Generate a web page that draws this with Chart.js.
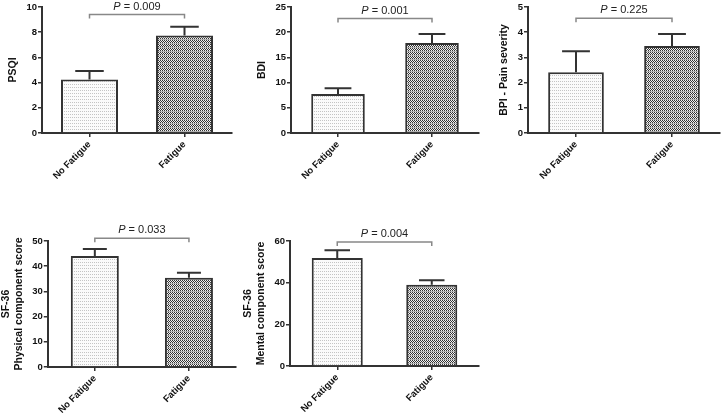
<!DOCTYPE html>
<html>
<head>
<meta charset="utf-8">
<script src="https://cdn.jsdelivr.net/npm/chart.js@4"></script>
<style>
  body { margin: 0; background: #fff; }
  #wrap { position: relative; width: 722px; height: 416px; overflow: hidden; }
  #wrap canvas { position: absolute; }
</style>
</head>
<body>
<div id="wrap"></div>
<script>
// Datos
const categories = ['No Fatigue', 'Fatigue'];

const psqiMean = [4.24, 7.73];
const psqiSem = [0.68, 0.71];
const bdiMean = [7.74, 17.86];
const bdiSem = [1.13, 1.78];
const bpiMean = [2.41, 3.45];
const bpiSem = [0.83, 0.48];
const pcsMean = [44.0, 35.4];
const pcsSem = [2.8, 2.0];
const mcsMean = [51.9, 39.0];
const mcsSem = [3.7, 2.2];

const pValues = ['0.009', '0.001', '0.225', '0.033', '0.004'];
const bracketLevels = [9.4, 22.7, 4.55, 51.1, 59.5];
const yMax = [10, 25, 5, 50, 60];
const yStep = [2, 5, 1, 10, 20];
const yTitles = ['PSQI', 'BDI', 'BPI - Pain severity', ['SF-36', 'Physical component score'], ['SF-36', 'Mental component score']];

// Posición de cada panel (canvas) y de su área de trazado
const panels = [
  { means: psqiMean, sems: psqiSem, box: { l: 0, t: 0, w: 240, h: 205 }, area: { l: 42, r: 232, t: 7, b: 133 }, bar: 0.6 },
  { means: bdiMean, sems: bdiSem, box: { l: 240, t: 0, w: 240, h: 205 }, area: { l: 291, r: 479, t: 7, b: 133 }, bar: 0.57 },
  { means: bpiMean, sems: bpiSem, box: { l: 480, t: 0, w: 242, h: 205 }, area: { l: 528, r: 720, t: 7, b: 133 }, bar: 0.58 },
  { means: pcsMean, sems: pcsSem, box: { l: 0, t: 220, w: 240, h: 196 }, area: { l: 41, r: 236, t: 241, b: 367 }, bar: 0.51 },
  { means: mcsMean, sems: mcsSem, box: { l: 240, t: 220, w: 240, h: 196 }, area: { l: 290, r: 479, t: 241, b: 366 }, bar: 0.54 }
];

const FONT = "'Liberation Sans', Arial, sans-serif";
const DARK = '#333';

// Patrones de relleno
function makePattern(draw, w, h) {
  const c = document.createElement('canvas');
  c.width = w; c.height = h;
  const g = c.getContext('2d');
  draw(g);
  return g.createPattern(c, 'repeat');
}

const lightDots = makePattern(g => {
  g.fillStyle = '#fbfbfb';
  g.fillRect(0, 0, 4, 3);
  g.fillStyle = '#c4c4c4';
  g.fillRect(0, 0, 1, 1);
  g.fillRect(2, 0, 1, 1);
}, 4, 3);

const darkChecker = makePattern(g => {
  g.fillStyle = '#f2f2f2';
  g.fillRect(0, 0, 2, 4);
  g.fillStyle = '#333';
  g.fillRect(0, 0, 1, 1);
  g.fillRect(1, 1, 1, 1);
  g.fillRect(0, 2, 1, 1);
  g.fillStyle = '#b0b0b0';
  g.fillRect(0, 3, 2, 1);
}, 2, 4);

// Plugin: barras de error y corchete con valor P
const annotations = {
  id: 'annotations',
  afterDatasetsDraw(chart, args, opts) {
    const ctx = chart.ctx;
    const y = chart.scales.y;
    const meta = chart.getDatasetMeta(0);
    ctx.save();
    ctx.strokeStyle = DARK;
    ctx.lineWidth = 2;
    meta.data.forEach((bar, i) => {
      const top = y.getPixelForValue(opts.means[i] + opts.sems[i]);
      const cap = bar.width * 0.25;
      ctx.beginPath();
      ctx.moveTo(bar.x, bar.y);
      ctx.lineTo(bar.x, top);
      ctx.moveTo(bar.x - cap, top);
      ctx.lineTo(bar.x + cap, top);
      ctx.stroke();
    });

    const x1 = meta.data[0].x;
    const x2 = meta.data[1].x;
    const by = y.getPixelForValue(opts.bracket);
    ctx.strokeStyle = '#888';
    ctx.lineWidth = 1.5;
    ctx.beginPath();
    ctx.moveTo(x1, by + 4);
    ctx.lineTo(x1, by);
    ctx.lineTo(x2, by);
    ctx.lineTo(x2, by + 4);
    ctx.stroke();

    // texto "P = x"
    const rest = ' = ' + opts.p;
    ctx.fillStyle = '#222';
    ctx.textBaseline = 'middle';
    ctx.font = 'italic 11px ' + FONT;
    const wp = ctx.measureText('P').width;
    ctx.font = '11px ' + FONT;
    const wr = ctx.measureText(rest).width;
    const sx = (x1 + x2) / 2 - (wp + wr) / 2;
    const ty = by - 8;
    ctx.textAlign = 'left';
    ctx.font = 'italic 11px ' + FONT;
    ctx.fillText('P', sx, ty);
    ctx.font = '11px ' + FONT;
    ctx.fillText(rest, sx + wp, ty);
    ctx.restore();
  }
};

const wrap = document.getElementById('wrap');

panels.forEach((p, idx) => {
  const canvas = document.createElement('canvas');
  canvas.width = p.box.w;
  canvas.height = p.box.h;
  canvas.style.left = p.box.l + 'px';
  canvas.style.top = p.box.t + 'px';
  canvas.style.width = p.box.w + 'px';
  canvas.style.height = p.box.h + 'px';
  wrap.appendChild(canvas);

  const xHeight = p.box.t + p.box.h - p.area.b;
  const padTop = p.area.t - p.box.t;
  const padRight = p.box.l + p.box.w - p.area.r;

  const chart = new Chart(canvas.getContext('2d'), {
    type: 'bar',
    data: {
      labels: categories,
      datasets: [{
        data: p.means,
        backgroundColor: [lightDots, darkChecker],
        borderColor: DARK,
        borderWidth: 2,
        barPercentage: p.bar,
        categoryPercentage: 1
      }]
    },
    options: {
      responsive: false,
      animation: false,
      devicePixelRatio: 1,
      layout: { padding: { top: padTop, right: padRight, left: 0, bottom: 0 } },
      plugins: {
        legend: { display: false },
        tooltip: { enabled: false },
        annotations: { means: p.means, sems: p.sems, bracket: bracketLevels[idx], p: pValues[idx] }
      },
      scales: {
        x: {
          afterFit: s => { s.height = xHeight; },
          grid: { offset: false, drawOnChartArea: false, drawTicks: true, tickLength: 4, color: DARK, lineWidth: 1.5 },
          border: { display: true, color: DARK, width: 2 },
          ticks: {
            minRotation: 45, maxRotation: 45, padding: 2,
            color: '#111',
            font: { family: FONT, size: 9.5, weight: 'bold' }
          }
        },
        y: {
          min: 0,
          max: yMax[idx],
          grid: { drawOnChartArea: false, drawTicks: true, tickLength: 4, color: DARK, lineWidth: 1.5 },
          border: { display: true, color: DARK, width: 2 },
          ticks: {
            stepSize: yStep[idx], padding: 1,
            color: '#111',
            font: { family: FONT, size: 9.5, weight: 'bold' }
          },
          title: {
            display: true,
            text: yTitles[idx],
            color: '#111',
            padding: { top: 0, bottom: 6 },
            font: { family: FONT, size: 10.5, weight: 'bold' }
          }
        }
      }
    },
    plugins: [annotations]
  });

  // ajustar el margen izquierdo para que el eje caiga donde en la figura
  const shift = (p.area.l - p.box.l) - chart.chartArea.left;
  if (shift > 0) {
    chart.options.layout.padding.left = shift;
    chart.update();
  }
});
</script>
</body>
</html>
